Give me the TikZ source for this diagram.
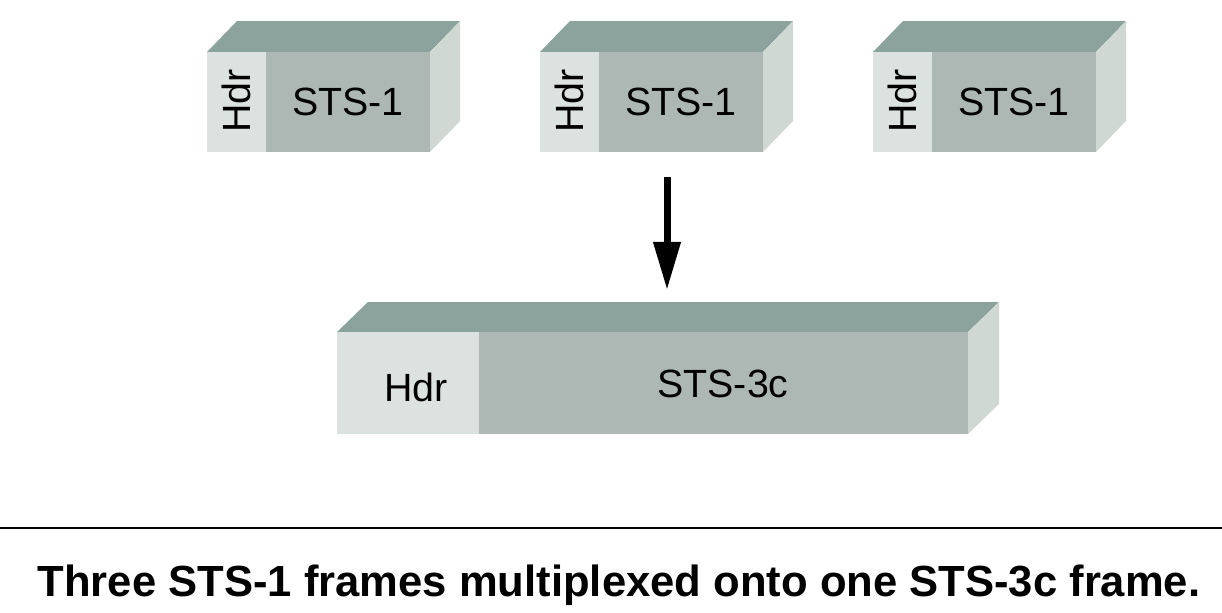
\documentclass[tikz,border=0pt]{standalone}
\usepackage{fontspec}
\setmainfont{Liberation Sans}
\usetikzlibrary{arrows.meta}
\definecolor{topc}{RGB}{140,162,157}
\definecolor{frontc}{RGB}{173,184,180}
\definecolor{hdrc}{RGB}{220,226,223}
\definecolor{sidec}{RGB}{208,216,211}
\tikzset{
  lbl/.style={inner sep=0pt, font=\fontsize{28}{30}\selectfont},
  hdrlbl/.style={lbl, rotate=90},
  caption/.style={inner sep=0pt, anchor=base, font=\fontsize{31}{33}\selectfont\bfseries}
}

\begin{document}
\begin{tikzpicture}[x=0.025cm, y=-0.025cm]
\useasboundingbox (0,0) rectangle (1222,612);
% three STS-1 frames
\foreach \i/\L in {1/207, 2/540, 3/873} {
  \fill[topc] (\L,52) -- (\L+30,21) -- (\L+253,21) -- (\L+223,52) -- cycle;
  \fill[sidec] (\L+223,52) -- (\L+253,21) -- (\L+253,121) -- (\L+223,152) -- cycle;
  \fill[hdrc] (\L,52) rectangle (\L+59,152);
  \fill[frontc] (\L+59,52) rectangle (\L+223,152);
  \node[hdrlbl] (hdr\i) at (\L+29.5,101) {Hdr};
  \node[lbl] (sts\i) at (\L+141,102) {STS-1};
}
% STS-3c frame
\fill[topc] (337,332) -- (368,302) -- (999,302) -- (968,332) -- cycle;
\fill[sidec] (968,332) -- (999,302) -- (999,404) -- (968,434) -- cycle;
\fill[hdrc] (337,332) rectangle (479,434);
\fill[frontc] (479,332) rectangle (968,434);
\node[lbl] (hdrbig) at (416,387) {Hdr};
\node[lbl] (stsbig) at (723,384) {STS-3c};
% arrow
\coordinate (arrtop) at (667,177);
\coordinate (arrend) at (667,290);
\draw[line width=0.175cm, -{Triangle[length=1.2cm, width=0.65cm]}] (arrtop) -- (arrend);
% rule and caption
\coordinate (ruleL) at (0,528);
\coordinate (ruleR) at (1222,528);
\draw[line width=1.4pt] (ruleL) -- (ruleR);
\node[caption] (cap) at (619,596) {Three STS-1 frames multiplexed onto one STS-3c frame.};
\end{tikzpicture}
\end{document}
